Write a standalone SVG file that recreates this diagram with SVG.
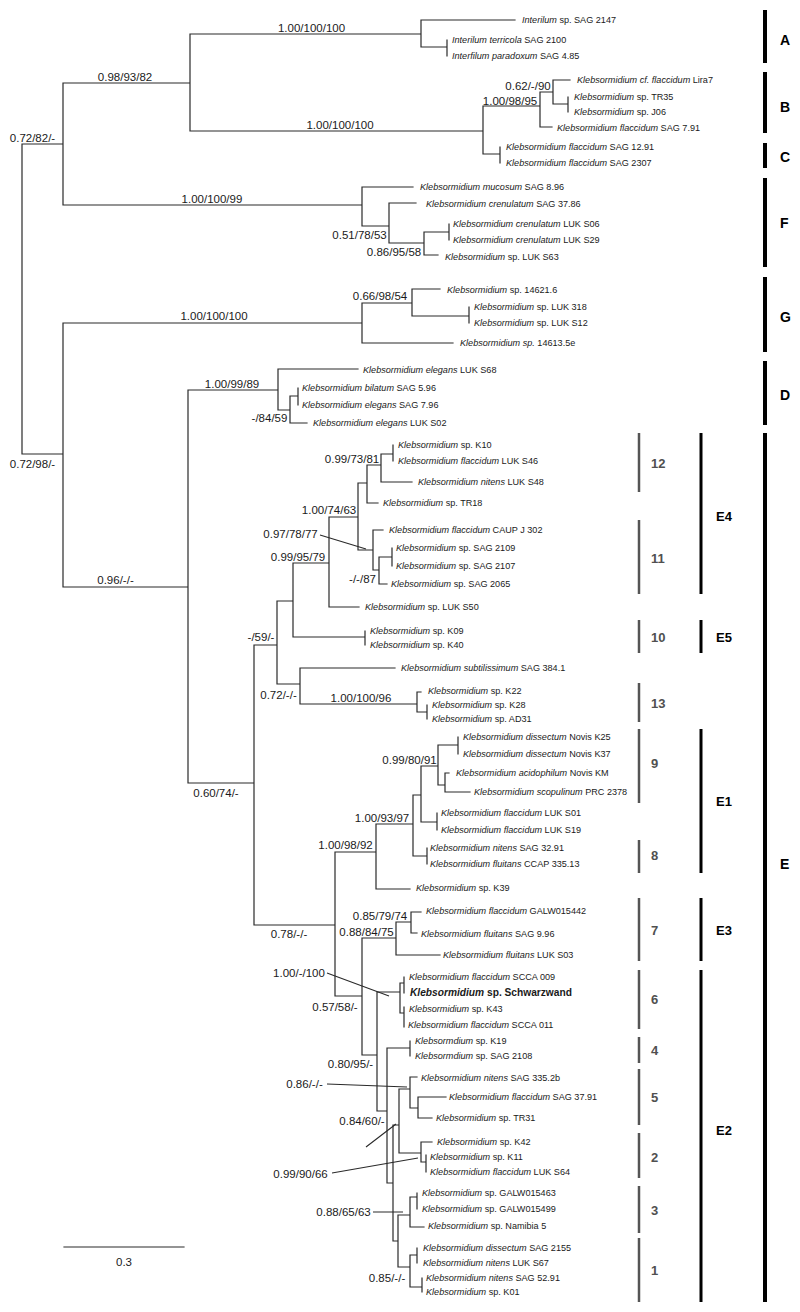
<svg xmlns="http://www.w3.org/2000/svg" width="800" height="1312" viewBox="0 0 800 1312">
<style>
.tree{fill:none;stroke:#2a2a2a;stroke-width:1.2;stroke-linecap:square}
.lead{fill:none;stroke:#2a2a2a;stroke-width:1.1}
.tip{font-family:"Liberation Sans",Arial,sans-serif;font-size:9.1px;fill:#1a1a1a}
.tip .i{font-style:italic}
.bold{font-weight:bold;font-size:10.2px}
.sup{font-family:"Liberation Sans",Arial,sans-serif;font-size:11.5px;fill:#1a1a1a;text-anchor:middle}
.b1{stroke:#000;stroke-width:4}
.b2{stroke:#000;stroke-width:3}
.b3{stroke:#555;stroke-width:2.5}
.l1{font-family:"Liberation Sans",Arial,sans-serif;font-weight:bold;font-size:14px;fill:#000}
.l2{font-family:"Liberation Sans",Arial,sans-serif;font-weight:bold;font-size:13px;fill:#000}
.l3{font-family:"Liberation Sans",Arial,sans-serif;font-weight:bold;font-size:13px;fill:#505050}
</style>
<rect width="800" height="1312" fill="#fff"/>
<g id="connectors">
<path class="tree" d="M22,144V454 M22,144H63 M63,83V205 M63,83H190 M190,34V131 M190,34H421 M421,20V47 M421,20H515 M421,47H447 M447,40V56 M190,131H483 M483,106V154 M483,106H540 M540,92V127 M540,92H553 M553,80V104 M553,80H570 M553,104H568 M568,97V112 M540,127H552 M483,154H500 M500,147V163 M63,205H362 M362,187V226 M362,187H413 M362,226H389 M389,203V243 M389,203H416 M389,243H424 M424,232V255 M424,232H449 M449,224V240 M424,255H438 M22,454H63 M63,323V587 M63,323H362 M362,303V343 M362,303H412 M412,289V316 M412,289H440 M412,316H469 M469,307V323 M362,343H453 M63,587H188 M188,390V783 M188,390H278 M278,369V410 M278,369H358 M278,410H290 M290,396V423 M290,396H298 M298,388V405 M290,423H307 M188,783H254 M254,645V925 M254,645H277 M277,601V684 M277,601H293 M293,563V637 M293,563H329 M329,517V607 M329,517H358 M358,483V550 M358,483H367 M367,465V503 M367,465H381 M381,454V482 M381,454H393 M393,445V461 M381,482H412 M367,503H378 M358,550H373 M373,530V570 M373,530H383 M373,570H379 M379,557V584 M379,557H392 M392,548V566 M379,584H387 M329,607H359 M293,637H365 M365,631V645 M277,684H300 M300,668V704 M300,668H395 M300,704H417 M417,692V712 M417,692H421 M417,712H427 M427,705V719 M254,925H335 M335,852V996 M335,852H376 M376,824V889 M376,824H413 M413,795V856 M413,795H421 M421,766V822 M421,766H438 M438,745V785 M438,745H458 M458,737V754 M438,785H445 M445,773V792 M445,773H449 M445,792H470 M421,822H437 M437,813V830 M413,856H427 M427,848V864 M376,889H410 M335,996H362 M362,938V1055 M362,938H396 M396,922V955 M396,922H411 M411,912V933 M411,912H421 M411,933H417 M396,955H440 M362,1055H377 M377,992V1111 M377,992H400 M400,983V1013 M400,983H404 M404,977V993 M400,1013H404 M404,1007V1027 M377,1111H387 M387,1048V1183 M387,1048H410 M410,1041V1056 M387,1183H393 M393,1125V1241 M393,1125H399 M399,1089V1153 M399,1089H410 M410,1077V1108 M410,1077H417 M410,1108H418 M418,1097V1118 M418,1097H446 M418,1118H432 M399,1153H421 M421,1142V1162 M421,1142H432 M421,1162H426 M426,1155V1172 M393,1241H398 M398,1215V1267 M398,1215H410 M410,1197V1227 M410,1197H417 M417,1193V1209 M410,1227H424 M398,1267H410 M410,1255V1287 M410,1255H417 M417,1248V1263 M410,1287H422 M422,1278V1292"/>
<path class="lead" d="M320,535L366,549 M327,973L389,996 M327,1084L407,1087 M366,1147L396,1124 M332,1173L418,1158 M373,1212L403,1212"/>
<path class="tree" d="M64,1247H184"/>
</g>
<g id="support">
<text class="sup" x="32.5" y="141.5">0.72/82/-</text>
<text class="sup" x="125" y="81">0.98/93/82</text>
<text class="sup" x="311.5" y="31.5">1.00/100/100</text>
<text class="sup" x="340" y="128.5">1.00/100/100</text>
<text class="sup" x="510" y="104.5">1.00/98/95</text>
<text class="sup" x="528" y="89.5">0.62/-/90</text>
<text class="sup" x="212" y="202.5">1.00/100/99</text>
<text class="sup" x="359.5" y="238.5">0.51/78/53</text>
<text class="sup" x="394" y="256">0.86/95/58</text>
<text class="sup" x="214" y="319.5">1.00/100/100</text>
<text class="sup" x="380" y="299.5">0.66/98/54</text>
<text class="sup" x="32.5" y="467.5">0.72/98/-</text>
<text class="sup" x="115.5" y="584">0.96/-/-</text>
<text class="sup" x="232" y="387.5">1.00/99/89</text>
<text class="sup" x="269.5" y="421.5">-/84/59</text>
<text class="sup" x="352" y="462.5">0.99/73/81</text>
<text class="sup" x="329" y="514">1.00/74/63</text>
<text class="sup" x="290.5" y="537.5">0.97/78/77</text>
<text class="sup" x="298" y="560.5">0.99/95/79</text>
<text class="sup" x="362.5" y="582.5">-/-/87</text>
<text class="sup" x="261" y="640.5">-/59/-</text>
<text class="sup" x="278.5" y="698.5">0.72/-/-</text>
<text class="sup" x="361" y="701.5">1.00/100/96</text>
<text class="sup" x="216" y="796.5">0.60/74/-</text>
<text class="sup" x="409.5" y="763.5">0.99/80/91</text>
<text class="sup" x="382" y="821.5">1.00/93/97</text>
<text class="sup" x="345.5" y="849">1.00/98/92</text>
<text class="sup" x="380" y="919.5">0.85/79/74</text>
<text class="sup" x="289" y="937.5">0.78/-/-</text>
<text class="sup" x="366.5" y="935.5">0.88/84/75</text>
<text class="sup" x="299" y="976.5">1.00/-/100</text>
<text class="sup" x="335" y="1011">0.57/58/-</text>
<text class="sup" x="350.5" y="1068">0.80/95/-</text>
<text class="sup" x="304.5" y="1087.5">0.86/-/-</text>
<text class="sup" x="362" y="1124.5">0.84/60/-</text>
<text class="sup" x="300.5" y="1177.5">0.99/90/66</text>
<text class="sup" x="343.5" y="1215.5">0.88/65/63</text>
<text class="sup" x="387" y="1281.5">0.85/-/-</text>
<text class="sup" x="124" y="1265.5">0.3</text>
</g>
<g class="tip">
<g id="t01"><text x="522" y="23.3"><tspan class="i">Interilum</tspan> sp. SAG 2147</text></g>
<g id="t02"><text x="452" y="43.3"><tspan class="i">Interilum terricola</tspan> SAG 2100</text></g>
<g id="t03"><text x="452" y="59.3"><tspan class="i">Interfilum paradoxum</tspan> SAG 4.85</text></g>
<g id="t04"><text x="577" y="83.3"><tspan class="i">Klebsormidium cf. flaccidum</tspan> Lira7</text></g>
<g id="t05"><text x="574" y="100.3"><tspan class="i">Klebsormidium</tspan> sp. TR35</text></g>
<g id="t06"><text x="574" y="115.3"><tspan class="i">Klebsormidium</tspan> sp. J06</text></g>
<g id="t07"><text x="557" y="131.3"><tspan class="i">Klebsormidium flaccidum</tspan> SAG 7.91</text></g>
<g id="t08"><text x="506" y="150.3"><tspan class="i">Klebsormidium flaccidum</tspan> SAG 12.91</text></g>
<g id="t09"><text x="506" y="166.3"><tspan class="i">Klebsormidium flaccidum</tspan> SAG 2307</text></g>
<g id="t10"><text x="420" y="190.3"><tspan class="i">Klebsormidium mucosum</tspan> SAG 8.96</text></g>
<g id="t11"><text x="426" y="207.3"><tspan class="i">Klebsormidium crenulatum</tspan> SAG 37.86</text></g>
<g id="t12"><text x="453" y="227.3"><tspan class="i">Klebsormidium crenulatum</tspan> LUK S06</text></g>
<g id="t13"><text x="453" y="243.3"><tspan class="i">Klebsormidium crenulatum</tspan> LUK S29</text></g>
<g id="t14"><text x="445" y="260.3"><tspan class="i">Klebsormidium</tspan> sp. LUK S63</text></g>
<g id="t15"><text x="447" y="293.3"><tspan class="i">Klebsormidium</tspan> sp. 14621.6</text></g>
<g id="t16"><text x="474" y="310.3"><tspan class="i">Klebsormidium</tspan> sp. LUK 318</text></g>
<g id="t17"><text x="474" y="326.3"><tspan class="i">Klebsormidium</tspan> sp. LUK S12</text></g>
<g id="t18"><text x="460" y="346.3"><tspan class="i">Klebsormidium sp.</tspan> 14613.5e</text></g>
<g id="t19"><text x="363" y="373.3"><tspan class="i">Klebsormidium elegans</tspan> LUK S68</text></g>
<g id="t20"><text x="302" y="391.3"><tspan class="i">Klebsormidium bilatum</tspan> SAG 5.96</text></g>
<g id="t21"><text x="302" y="408.3"><tspan class="i">Klebsormidium elegans</tspan> SAG 7.96</text></g>
<g id="t22"><text x="313" y="426.3"><tspan class="i">Klebsormidium elegans</tspan> LUK S02</text></g>
<g id="t23"><text x="398" y="448.3"><tspan class="i">Klebsormidium</tspan> sp. K10</text></g>
<g id="t24"><text x="398" y="464.3"><tspan class="i">Klebsormidium flaccidum</tspan> LUK S46</text></g>
<g id="t25"><text x="418" y="485.3"><tspan class="i">Klebsormidium nitens</tspan> LUK S48</text></g>
<g id="t26"><text x="383" y="506.3"><tspan class="i">Klebsormidium</tspan> sp. TR18</text></g>
<g id="t27"><text x="389" y="533.3"><tspan class="i">Klebsormidium flaccidum</tspan> CAUP J 302</text></g>
<g id="t28"><text x="396" y="551.3"><tspan class="i">Klebsormidium</tspan> sp. SAG 2109</text></g>
<g id="t29"><text x="396" y="569.3"><tspan class="i">Klebsormidium</tspan> sp. SAG 2107</text></g>
<g id="t30"><text x="391" y="587.3"><tspan class="i">Klebsormidium</tspan> sp. SAG 2065</text></g>
<g id="t31"><text x="365" y="610.3"><tspan class="i">Klebsormidium</tspan> sp. LUK S50</text></g>
<g id="t32"><text x="370" y="634.3"><tspan class="i">Klebsormidium</tspan> sp. K09</text></g>
<g id="t33"><text x="370" y="648.3"><tspan class="i">Klebsormidium</tspan> sp. K40</text></g>
<g id="t34"><text x="401" y="671.3"><tspan class="i">Klebsormidium subtilissimum</tspan> SAG 384.1</text></g>
<g id="t35"><text x="428" y="694.3"><tspan class="i">Klebsormidium</tspan> sp. K22</text></g>
<g id="t36"><text x="432" y="708.3"><tspan class="i">Klebsormidium</tspan> sp. K28</text></g>
<g id="t37"><text x="432" y="722.3"><tspan class="i">Klebsormidium</tspan> sp. AD31</text></g>
<g id="t38"><text x="463" y="740.3"><tspan class="i">Klebsormidium dissectum</tspan> Novis K25</text></g>
<g id="t39"><text x="463" y="757.3"><tspan class="i">Klebsormidium dissectum</tspan> Novis K37</text></g>
<g id="t40"><text x="456" y="776.3"><tspan class="i">Klebsormidium acidophilum</tspan> Novis KM</text></g>
<g id="t41"><text x="474" y="795.3"><tspan class="i">Klebsormidium scopulinum</tspan> PRC 2378</text></g>
<g id="t42"><text x="441" y="816.3"><tspan class="i">Klebsormidium flaccidum</tspan> LUK S01</text></g>
<g id="t43"><text x="441" y="833.3"><tspan class="i">Klebsormidium flaccidum</tspan> LUK S19</text></g>
<g id="t44"><text x="430" y="851.3"><tspan class="i">Klebsormidium nitens</tspan> SAG 32.91</text></g>
<g id="t45"><text x="430" y="867.3"><tspan class="i">Klebsormidium fluitans</tspan> CCAP 335.13</text></g>
<g id="t46"><text x="416" y="891.3"><tspan class="i">Klebsormidium</tspan> sp. K39</text></g>
<g id="t47"><text x="426" y="914.3"><tspan class="i">Klebsormidium flaccidum</tspan> GALW015442</text></g>
<g id="t48"><text x="421" y="937.3"><tspan class="i">Klebsormidium fluitans</tspan> SAG 9.96</text></g>
<g id="t49"><text x="443" y="958.3"><tspan class="i">Klebsormidium fluitans</tspan> LUK S03</text></g>
<g id="t50"><text x="409" y="980.3"><tspan class="i">Klebsormidium flaccidum</tspan> SCCA 009</text></g>
<g id="t51"><text class="bold" x="410" y="995.7"><tspan class="i">Klebsormidium</tspan> sp. Schwarzwand</text></g>
<g id="t52"><text x="409" y="1012.3"><tspan class="i">Klebsormidium</tspan> sp. K43</text></g>
<g id="t53"><text x="408" y="1028.3"><tspan class="i">Klebsormidium flaccidum</tspan> SCCA 011</text></g>
<g id="t54"><text x="415" y="1044.3"><tspan class="i">Klebsormdium</tspan> sp. K19</text></g>
<g id="t55"><text x="415" y="1059.3"><tspan class="i">Klebsormdium</tspan> sp. SAG 2108</text></g>
<g id="t56"><text x="421" y="1081.3"><tspan class="i">Klebsormidium nitens</tspan> SAG 335.2b</text></g>
<g id="t57"><text x="449" y="1100.3"><tspan class="i">Klebsormidium flaccidum</tspan> SAG 37.91</text></g>
<g id="t58"><text x="436" y="1121.3"><tspan class="i">Klebsormidium</tspan> sp. TR31</text></g>
<g id="t59"><text x="437" y="1145.3"><tspan class="i">Klebsormidium</tspan> sp. K42</text></g>
<g id="t60"><text x="430" y="1160.3"><tspan class="i">Klebsormidium</tspan> sp. K11</text></g>
<g id="t61"><text x="430" y="1175.3"><tspan class="i">Klebsormidium flaccidum</tspan> LUK S64</text></g>
<g id="t62"><text x="422" y="1196.3"><tspan class="i">Klebsormidium</tspan> sp. GALW015463</text></g>
<g id="t63"><text x="422" y="1212.3"><tspan class="i">Klebsormidium</tspan> sp. GALW015499</text></g>
<g id="t64"><text x="428" y="1229.3"><tspan class="i">Klebsormidium</tspan> sp. Namibia 5</text></g>
<g id="t65"><text x="423" y="1251.3"><tspan class="i">Klebsormidium dissectum</tspan> SAG 2155</text></g>
<g id="t66"><text x="423" y="1266.3"><tspan class="i">Klebsormidium nitens</tspan> LUK S67</text></g>
<g id="t67"><text x="426" y="1281.3"><tspan class="i">Klebsormidium nitens</tspan> SAG 52.91</text></g>
<g id="t68"><text x="426" y="1295.3"><tspan class="i">Klebsormidium</tspan> sp. K01</text></g>
</g>
<g id="clades-major">
<line class="b1" x1="765" y1="10" x2="765" y2="63"/><text class="l1" x="780" y="45">A</text>
<line class="b1" x1="765" y1="72" x2="765" y2="133"/><text class="l1" x="780" y="112">B</text>
<line class="b1" x1="765" y1="143" x2="765" y2="168"/><text class="l1" x="780" y="162">C</text>
<line class="b1" x1="765" y1="178" x2="765" y2="267"/><text class="l1" x="780" y="228">F</text>
<line class="b1" x1="765" y1="277" x2="765" y2="352"/><text class="l1" x="780" y="322">G</text>
<line class="b1" x1="765" y1="361" x2="765" y2="425"/><text class="l1" x="780" y="400">D</text>
<line class="b1" x1="765" y1="433" x2="765" y2="1302"/><text class="l1" x="780" y="869">E</text>
</g>
<g id="clades-sub">
<line class="b2" x1="701" y1="433" x2="701" y2="594"/><text class="l2" x="716" y="521">E4</text>
<line class="b2" x1="701" y1="620" x2="701" y2="653"/><text class="l2" x="716" y="642">E5</text>
<line class="b2" x1="701" y1="729" x2="701" y2="873"/><text class="l2" x="716" y="806">E1</text>
<line class="b2" x1="701" y1="898" x2="701" y2="961"/><text class="l2" x="716" y="935">E3</text>
<line class="b2" x1="701" y1="970" x2="701" y2="1302"/><text class="l2" x="716" y="1135">E2</text>
</g>
<g id="clades-num">
<line class="b3" x1="639" y1="433" x2="639" y2="492"/><text class="l3" x="651" y="468">12</text>
<line class="b3" x1="639" y1="520" x2="639" y2="594"/><text class="l3" x="651" y="563">11</text>
<line class="b3" x1="639" y1="620" x2="639" y2="653"/><text class="l3" x="651" y="642">10</text>
<line class="b3" x1="639" y1="683" x2="639" y2="722"/><text class="l3" x="651" y="708">13</text>
<line class="b3" x1="639" y1="729" x2="639" y2="803"/><text class="l3" x="651" y="768">9</text>
<line class="b3" x1="639" y1="840" x2="639" y2="873"/><text class="l3" x="651" y="860">8</text>
<line class="b3" x1="639" y1="898" x2="639" y2="961"/><text class="l3" x="651" y="935">7</text>
<line class="b3" x1="639" y1="970" x2="639" y2="1029"/><text class="l3" x="651" y="1004">6</text>
<line class="b3" x1="639" y1="1037" x2="639" y2="1063"/><text class="l3" x="651" y="1055">4</text>
<line class="b3" x1="639" y1="1069" x2="639" y2="1125"/><text class="l3" x="651" y="1102">5</text>
<line class="b3" x1="639" y1="1133" x2="639" y2="1178"/><text class="l3" x="651" y="1162">2</text>
<line class="b3" x1="639" y1="1186" x2="639" y2="1233"/><text class="l3" x="651" y="1215">3</text>
<line class="b3" x1="639" y1="1238" x2="639" y2="1302"/><text class="l3" x="651" y="1275">1</text>
</g>
</svg>
